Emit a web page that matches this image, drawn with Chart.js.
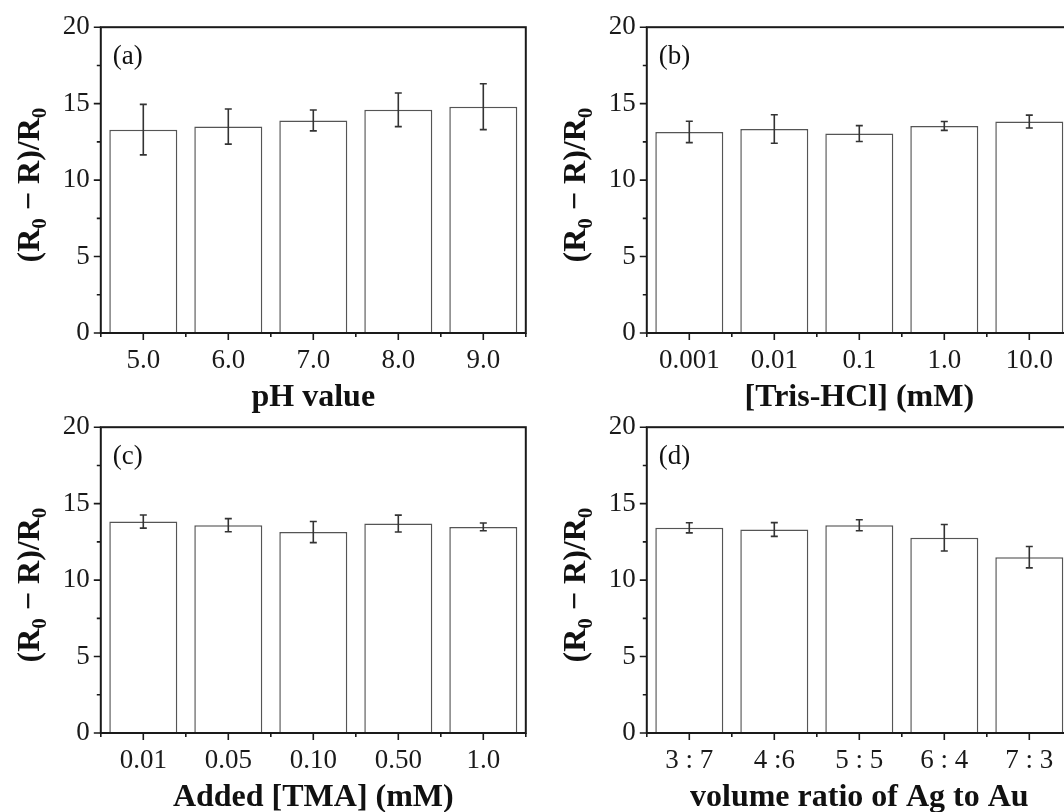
<!DOCTYPE html>
<html lang="en">
<head>
  <meta charset="UTF-8">
  <title>Sensor response under different conditions</title>
  <script src="https://cdn.jsdelivr.net/npm/chart.js"></script>
  <style>
    html, body {
      margin: 0;
      width: 1064px;
      height: 812px;
      overflow: hidden;
      background: #fff;
    }
    .panel {
      position: absolute;
      width: 532px;
      height: 420px;
    }
    #panelA { left: 0; top: 0; }
    #panelB { left: 545.7px; top: 0; }
    #panelC { left: 0; top: 399.5px; }
    #panelD { left: 545.7px; top: 399.5px; }
  </style>
</head>
<body>
  <div class="panel" id="panelA"><canvas id="chartA" width="532" height="420"></canvas></div>
  <div class="panel" id="panelB"><canvas id="chartB" width="532" height="420"></canvas></div>
  <div class="panel" id="panelC"><canvas id="chartC" width="532" height="420"></canvas></div>
  <div class="panel" id="panelD"><canvas id="chartD" width="532" height="420"></canvas></div>

<script>
  // (a) pH
  const phLabels = ['5.0', '6.0', '7.0', '8.0', '9.0'];
  const phMean = [13.3, 13.5, 13.9, 14.6, 14.8];
  const phErr = [1.65, 1.15, 0.68, 1.1, 1.5];

  // (b) Tris-HCl concentration
  const trisLabels = ['0.001', '0.01', '0.1', '1.0', '10.0'];
  const trisMean = [13.15, 13.34, 13.04, 13.54, 13.83];
  const trisErr = [0.7, 0.93, 0.52, 0.29, 0.42];

  // (c) added TMA
  const tmaLabels = ['0.01', '0.05', '0.10', '0.50', '1.0'];
  const tmaMean = [13.83, 13.59, 13.14, 13.70, 13.48];
  const tmaErr = [0.43, 0.43, 0.69, 0.55, 0.25];

  // (d) Ag:Au volume ratio
  const ratioLabels = ['3 : 7', '4 :6', '5 : 5', '6 : 4', '7 : 3'];
  const ratioMean = [13.42, 13.31, 13.59, 12.77, 11.50];
  const ratioErr = [0.33, 0.45, 0.36, 0.87, 0.7];

  const yMin = 0, yMax = 20, yStep = 5, yMinorStep = 2.5;

  const SERIF = '"Liberation Serif", "Times New Roman", serif';

  // frame, minor/major ticks, error bars and titles
  const decorations = {
    id: 'decorations',
    afterDatasetsDraw(chart, args, opts) {
      const ctx = chart.ctx;
      const area = chart.chartArea;
      const x = chart.scales.x;
      const y = chart.scales.y;

      ctx.save();
      // error bars
      ctx.strokeStyle = '#333';
      ctx.lineWidth = 1.6;
      const meta = chart.getDatasetMeta(0);
      meta.data.forEach((bar, i) => {
        const v = opts.mean[i], e = opts.err[i];
        const top = y.getPixelForValue(v + e);
        const bot = y.getPixelForValue(v - e);
        ctx.beginPath();
        ctx.moveTo(bar.x, top); ctx.lineTo(bar.x, bot);
        ctx.moveTo(bar.x - 3.5, top); ctx.lineTo(bar.x + 3.5, top);
        ctx.moveTo(bar.x - 3.5, bot); ctx.lineTo(bar.x + 3.5, bot);
        ctx.stroke();
      });

      // frame
      ctx.strokeStyle = '#1a1a1a';
      ctx.lineWidth = 2;
      ctx.strokeRect(area.left, area.top, area.right - area.left, area.bottom - area.top);

      // y ticks, major and minor, pointing out
      ctx.lineWidth = 1.6;
      ctx.beginPath();
      for (let v = yMin; v <= yMax + 1e-9; v += yMinorStep) {
        const py = y.getPixelForValue(v);
        const len = (v % yStep === 0) ? 7 : 4;
        ctx.moveTo(area.left, py); ctx.lineTo(area.left - len, py);
      }
      // x ticks: major at categories, minor between them
      const n = chart.data.labels.length;
      for (let i = 0; i < n; i++) {
        const px = x.getPixelForValue(i);
        ctx.moveTo(px, area.bottom); ctx.lineTo(px, area.bottom + 7);
      }
      for (let i = 0; i <= n; i++) {
        const px = x.getPixelForValue(i - 0.5);
        ctx.moveTo(px, area.bottom); ctx.lineTo(px, area.bottom + 4);
      }
      ctx.stroke();

      // panel letter
      ctx.fillStyle = '#111';
      ctx.font = '27px ' + SERIF;
      ctx.textAlign = 'left';
      ctx.textBaseline = 'alphabetic';
      ctx.fillText(opts.letter, area.left + 12, area.top + 37);

      // x title
      ctx.font = 'bold 32px ' + SERIF;
      ctx.textAlign = 'center';
      ctx.fillText(opts.xTitle, (area.left + area.right) / 2, area.bottom + 73);

      // y title (R0 − R)/R0 with subscripts, rotated
      const parts = [['(R', false], ['0', true], [' \u2212 R)/R', false], ['0', true]];
      const bigFont = 'bold 32px ' + SERIF;
      const subFont = 'bold 21px ' + SERIF;
      let total = 0;
      parts.forEach(p => { ctx.font = p[1] ? subFont : bigFont; total += ctx.measureText(p[0]).width; });
      ctx.translate(area.left - 62, (area.top + area.bottom) / 2 + 5);
      ctx.rotate(-Math.PI / 2);
      ctx.textAlign = 'left';
      let cx = -total / 2;
      parts.forEach(p => {
        ctx.font = p[1] ? subFont : bigFont;
        ctx.fillText(p[0], cx, p[1] ? 7 : 0);
        cx += ctx.measureText(p[0]).width;
      });
      ctx.restore();
    }
  };

  function makePanel(canvasId, labels, mean, err, letter, xTitle) {
    return new Chart(document.getElementById(canvasId), {
      type: 'bar',
      data: {
        labels: labels,
        datasets: [{
          data: mean,
          backgroundColor: '#fff',
          borderColor: '#555',
          borderWidth: 1.5,
          categoryPercentage: 1.0,
          barPercentage: 0.8
        }]
      },
      options: {
        responsive: false,
        devicePixelRatio: 1,
        animation: false,
        layout: { padding: { left: 0, top: 23.3, right: 6.2, bottom: 0 } },
        plugins: {
          legend: { display: false },
          tooltip: { enabled: false },
          decorations: { mean: mean, err: err, letter: letter, xTitle: xTitle }
        },
        scales: {
          x: {
            grid: { display: false, drawTicks: false },
            border: { display: false },
            ticks: { color: '#1a1a1a', font: { family: SERIF, size: 27 }, padding: 12, maxRotation: 0, autoSkip: false },
            afterFit: s => { s.height = 87; }
          },
          y: {
            min: yMin,
            max: yMax,
            grid: { display: false, drawTicks: false },
            border: { display: false },
            ticks: { stepSize: yStep, color: '#1a1a1a', font: { family: SERIF, size: 27 }, padding: 11 },
            afterFit: s => { s.width = 100.8; }
          }
        }
      },
      plugins: [decorations]
    });
  }

  makePanel('chartA', phLabels, phMean, phErr, '(a)', 'pH value');
  makePanel('chartB', trisLabels, trisMean, trisErr, '(b)', '[Tris-HCl] (mM)');
  makePanel('chartC', tmaLabels, tmaMean, tmaErr, '(c)', 'Added [TMA] (mM)');
  makePanel('chartD', ratioLabels, ratioMean, ratioErr, '(d)', 'volume ratio of Ag to Au');
</script>
</body>
</html>
